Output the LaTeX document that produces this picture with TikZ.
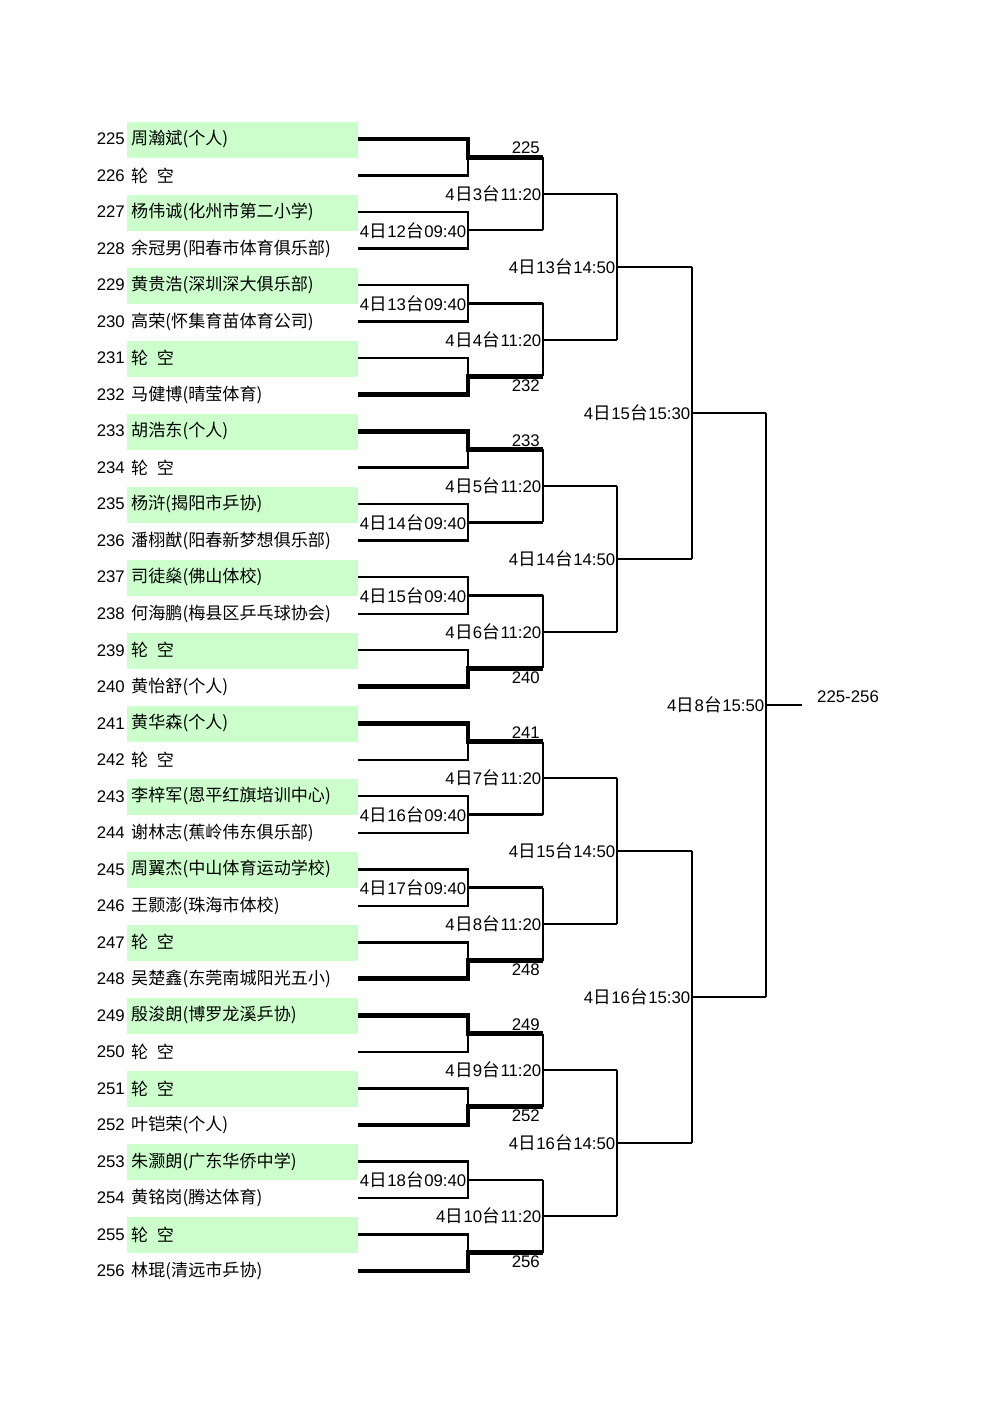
\documentclass[tikz,border=0pt]{standalone}
\usepackage{fontspec}
\setmainfont{Liberation Sans}
\newfontfamily\cjk{Noto Sans CJK SC}
\usetikzlibrary{calc}
\definecolor{Band}{HTML}{CCFFCC}
\definecolor{Ink}{HTML}{000000}
\newcommand\lk{轮\hspace{.5em}空}
\newcommand\tm[3]{#1{\cjk\fontsize{17.6}{20}\selectfont\kern.3pt 日\kern.3pt}#2{\cjk\fontsize{17.6}{20}\selectfont\kern.3pt 台\kern.3pt}#3}
\tikzset{
  band/.style={fill=Band,draw=none},
  seed/.style={anchor=east,inner sep=0pt,text=Ink,font=\fontsize{16.8}{20}\selectfont},
  entrant/.style={anchor=west,inner sep=0pt,text=Ink,font=\fontsize{17.1}{21}\cjk},
  tie/.style={draw=Ink,line width=2.4pt},
  winline/.style={draw=Ink,line width=4.8pt},
  slot/.style={anchor=east,inner sep=1.5pt,text=Ink,font=\fontsize{16.8}{20}\selectfont},
  winner/.style={inner sep=1pt,outer sep=2.2pt,text=Ink,font=\fontsize{16.8}{20}\selectfont}
}

\begin{document}
\begin{tikzpicture}[x=1pt,y=-1pt]
  \useasboundingbox (0,0) rectangle (1000,1414);
  % shaded rows
  \foreach \i in {0,2,...,30}
    \fill[band] (127,{122+36.516*\i}) rectangle (358,{158+36.516*\i});
  % entrants
  \foreach \nm [count=\i from 0] in {周瀚斌(个人),\lk,杨伟诚(化州市第二小学),余冠男(阳春市体育俱乐部),
      黄贵浩(深圳深大俱乐部),高荣(怀集育苗体育公司),\lk,马健博(晴莹体育),
      胡浩东(个人),\lk,杨浒(揭阳市乒协),潘栩猷(阳春新梦想俱乐部),
      司徒燊(佛山体校),何海鹏(梅县区乒乓球协会),\lk,黄怡舒(个人),
      黄华森(个人),\lk,李梓军(恩平红旗培训中心),谢林志(蕉岭伟东俱乐部),
      周翼杰(中山体育运动学校),王颢澎(珠海市体校),\lk,吴楚鑫(东莞南城阳光五小),
      殷浚朗(博罗龙溪乒协),\lk,\lk,叶铠荣(个人),
      朱灏朗(广东华侨中学),黄铭岗(腾达体育),\lk,林琨(清远市乒协)}{
    \pgfmathsetmacro\yy{139+36.516*\i}
    \pgfmathtruncatemacro\sd{225+\i}
    \node[seed] (s\i) at (125,\yy) {\sd};
    \node[entrant] (n\i) at (131,\yy) {\nm};
    \coordinate (m0-\i) at (358,\yy);
  }
  % bracket
  \foreach \r/\w/\xj/\xo/\cnt in {1/2/468/543/15,2/4/543/617/7,3/8/617/692/3,4/16/692/766/1,5/32/766/802/0}{
    \pgfmathtruncatemacro\q{\r-1}
    \foreach \k in {0,...,\cnt}{
      \pgfmathtruncatemacro\ta{2*\k}
      \pgfmathtruncatemacro\tb{2*\k+1}
      \pgfmathsetmacro\yy{139+36.516*(\w*\k+(\w-1)/2)}
      \coordinate (v\r-\k) at (\xj,\yy);
      \coordinate (m\r-\k) at (\xo,\yy);
      \draw[tie] (m\q-\ta) -| (v\r-\k) |- (m\q-\tb);
      \draw[tie] (v\r-\k) -- (m\r-\k);
    }
  }
  % walkovers
  \foreach \k/\i/\an in {0/0/south east,4/8/south east,8/16/south east,12/24/south east,
      3/7/north east,7/15/north east,11/23/north east,13/27/north east,15/31/north east}{
    \pgfmathtruncatemacro\sd{225+\i}
    \draw[winline] (m0-\i) -| (v1-\k) -- (m1-\k);
    \node[winner,anchor=\an] (w\k) at (m1-\k) {\sd};
  }
  % match times
  \node[slot] (t1-1) at (v1-1) {\tm{4}{12}{09:40}};
  \node[slot] (t1-2) at (v1-2) {\tm{4}{13}{09:40}};
  \node[slot] (t1-5) at (v1-5) {\tm{4}{14}{09:40}};
  \node[slot] (t1-6) at (v1-6) {\tm{4}{15}{09:40}};
  \node[slot] (t1-9) at (v1-9) {\tm{4}{16}{09:40}};
  \node[slot] (t1-10) at (v1-10) {\tm{4}{17}{09:40}};
  \node[slot] (t1-14) at (v1-14) {\tm{4}{18}{09:40}};
  \foreach \k in {0,...,7}{
    \pgfmathtruncatemacro\tb{\k+3}
    \node[slot] (t2-\k) at (v2-\k) {\tm{4}{\tb}{11:20}};
  }
  \foreach \k in {0,...,3}{
    \pgfmathtruncatemacro\tb{\k+13}
    \node[slot] (t3-\k) at (v3-\k) {\tm{4}{\tb}{14:50}};
  }
  \node[slot] (t4-0) at (v4-0) {\tm{4}{15}{15:30}};
  \node[slot] (t4-1) at (v4-1) {\tm{4}{16}{15:30}};
  \node[slot] (t5-0) at (v5-0) {\tm{4}{8}{15:50}};
  \node[seed,anchor=west] (champ) at ([xshift=15pt,yshift=8pt]m5-0) {225-256};
\end{tikzpicture}
\end{document}
